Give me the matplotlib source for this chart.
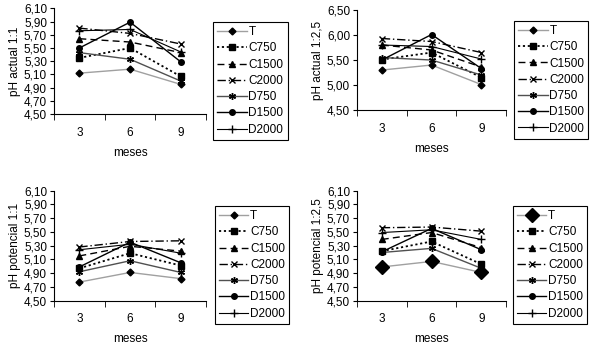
import matplotlib.pyplot as plt
import matplotlib.ticker as mticker
import numpy as np

plt.rcParams['font.family'] = ['Liberation Sans', 'DejaVu Sans']

# %%
# data
meses = ['3', '6', '9']
series = ['T', 'C750', 'C1500', 'C2000', 'D750', 'D1500', 'D2000']

actual_11 = {
    'T':     [5.12, 5.18, 4.95],
    'C750':  [5.35, 5.50, 5.07],
    'C1500': [5.64, 5.59, 5.43],
    'C2000': [5.80, 5.72, 5.56],
    'D750':  [5.43, 5.33, 5.00],
    'D1500': [5.50, 5.89, 5.29],
    'D2000': [5.76, 5.78, 5.44],
}
actual_125 = {
    'T':     [5.30, 5.40, 5.01],
    'C750':  [5.51, 5.65, 5.15],
    'C1500': [5.80, 5.70, 5.36],
    'C2000': [5.93, 5.87, 5.65],
    'D750':  [5.55, 5.50, 5.20],
    'D1500': [5.50, 6.01, 5.33],
    'D2000': [5.80, 5.77, 5.52],
}
potencial_11 = {
    'T':     [4.77, 4.91, 4.82],
    'C750':  [4.97, 5.19, 5.01],
    'C1500': [5.15, 5.29, 5.22],
    'C2000': [5.28, 5.36, 5.37],
    'D750':  [4.92, 5.08, 4.91],
    'D1500': [4.99, 5.35, 5.05],
    'D2000': [5.24, 5.32, 5.19],
}
potencial_125 = {
    'T':     [4.99, 5.07, 4.91],
    'C750':  [5.22, 5.36, 5.03],
    'C1500': [5.39, 5.49, 5.27],
    'C2000': [5.56, 5.57, 5.51],
    'D750':  [5.20, 5.26, 4.97],
    'D1500': [5.21, 5.55, 5.24],
    'D2000': [5.49, 5.53, 5.39],
}

# %%
styles = {
    'T':     dict(color='#a0a0a0', ls='-', marker='D', ms=3.5, mfc='black', mec='black'),
    'C750':  dict(color='black', ls=(0, (1.2, 1.5)), lw=1.3, marker='s', ms=4.5),
    'C1500': dict(color='black', ls=(0, (5, 3)), marker='^', ms=4),
    'C2000': dict(color='black', ls=(0, (6, 2, 1, 2)), marker='x', ms=5),
    'D750':  dict(color='#505050', ls='-', marker=(6, 2, 0), ms=5, mec='black'),
    'D1500': dict(color='black', ls='-', marker='o', ms=4),
    'D2000': dict(color='black', ls='-', lw=0.8, marker='+', ms=6),
}

panels = [
    (actual_11, 'pH actual 1:1', [0.0915, 0.668, 0.258, 0.308], 4.5, 6.1, 0.2, (0.361, 0.936)),
    (actual_125, 'pH actual 1:2,5', [0.605, 0.680, 0.253, 0.291], 4.5, 6.5, 0.5, (0.871, 0.939)),
    (potencial_11, 'pH potencial 1:1', [0.0915, 0.126, 0.258, 0.320], 4.5, 6.1, 0.2, (0.364, 0.401)),
    (potencial_125, 'pH potencial 1:2,5', [0.605, 0.126, 0.253, 0.320], 4.5, 6.1, 0.2, (0.869, 0.401)),
]

fig = plt.figure(figsize=(5.9, 3.44), dpi=100)
x = np.arange(len(meses))

for i, (data, ylab, rect, ymin, ymax, step, leg_pos) in enumerate(panels):
    ax = fig.add_axes(rect)
    for s in series:
        st = dict(styles[s])
        if i == 3 and s == 'T':
            st['ms'] = 7
        st.setdefault('lw', 1.0)
        ax.plot(x, data[s], label=s, **st)
    ax.set_xlim(-0.5, 2.5)
    ax.set_ylim(ymin, ymax)
    ax.set_yticks(np.arange(ymin, ymax + step / 2, step))
    ax.yaxis.set_major_formatter(mticker.FuncFormatter(lambda v, p: f'{v:.2f}'.replace('.', ',')))
    ax.set_xticks(x)
    ax.set_xticklabels(meses)
    ax.xaxis.set_minor_locator(mticker.FixedLocator([-0.5, 0.5, 1.5, 2.5]))
    ax.tick_params(axis='x', which='major', length=0, pad=9, labelsize=8.5)
    ax.tick_params(axis='x', which='minor', length=4, direction='out')
    ax.tick_params(axis='y', length=3, labelsize=8.5, pad=2)
    for sp in ['top', 'right']:
        ax.spines[sp].set_visible(False)
    ax.set_xlabel('meses', fontsize=8.5, labelpad=6)
    ax.set_ylabel(ylab, fontsize=8.5, labelpad=2)
    leg = ax.legend(loc='upper left', bbox_to_anchor=leg_pos, bbox_transform=fig.transFigure,
                    fontsize=8.5, handlelength=2.5, handletextpad=0.15, labelspacing=0.36,
                    borderpad=0.35, borderaxespad=0, fancybox=False, framealpha=1)
    leg.get_frame().set_edgecolor('black')
    leg.get_frame().set_linewidth(0.8)

plt.savefig('out.png', dpi=100)
